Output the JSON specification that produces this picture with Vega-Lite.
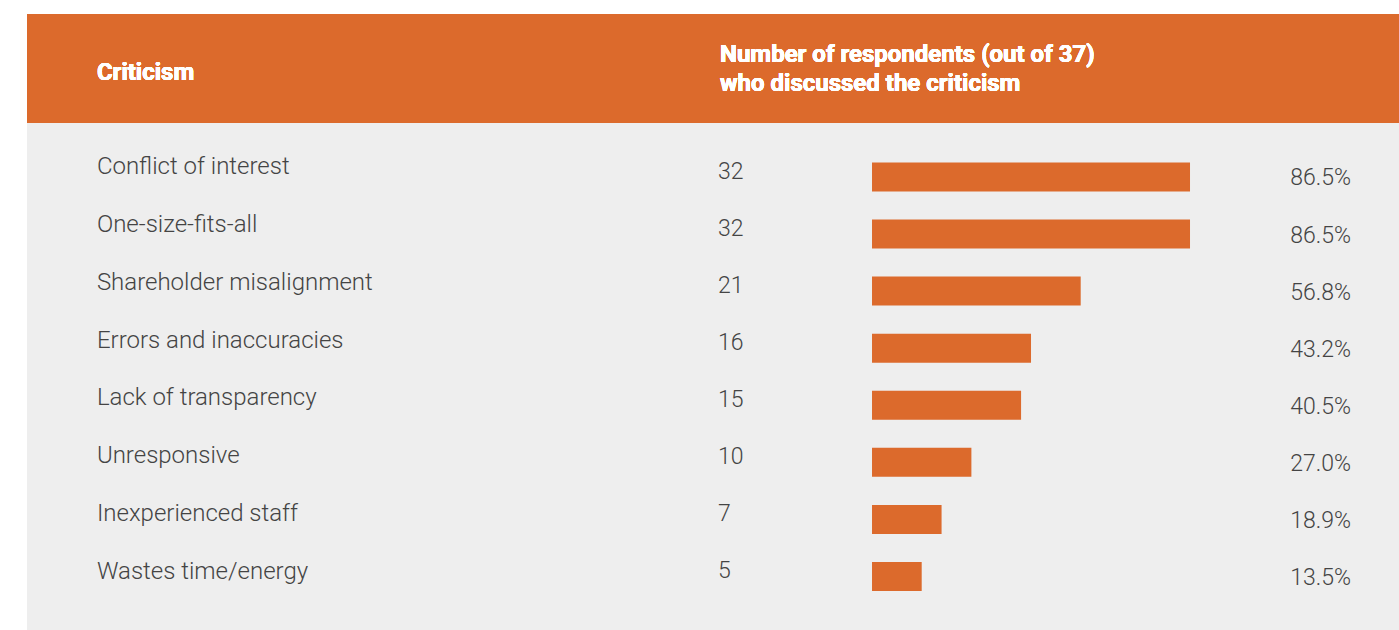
{
  "$schema": "https://vega.github.io/schema/vega-lite/v6.json",
  "width": 1399,
  "height": 630,
  "autosize": {"type": "none"},
  "padding": {"left": 0, "right": 0, "top": 0, "bottom": 0},
  "background": "white",
  "config": {"view": {"stroke": null}, "text": {"font": "Roboto"}},
  "datasets": {
    "rows": [
      {"criticism": "Conflict of interest", "rank": 1, "count": 32, "pct": "86.5%"},
      {"criticism": "One-size-fits-all", "rank": 2, "count": 32, "pct": "86.5%"},
      {"criticism": "Shareholder misalignment", "rank": 3, "count": 21, "pct": "56.8%"},
      {"criticism": "Errors and inaccuracies", "rank": 4, "count": 16, "pct": "43.2%"},
      {"criticism": "Lack of transparency", "rank": 5, "count": 15, "pct": "40.5%"},
      {"criticism": "Unresponsive", "rank": 6, "count": 10, "pct": "27.0%"},
      {"criticism": "Inexperienced staff", "rank": 7, "count": 7, "pct": "18.9%"},
      {"criticism": "Wastes time/energy", "rank": 8, "count": 5, "pct": "13.5%"}
    ]
  },
  "data": {"name": "rows"},
  "resolve": {"scale": {"y": "independent"}},
  "layer": [
    {
      "mark": {"type": "rect", "color": "#eeeeee"},
      "encoding": {
        "x": {"datum": -85.03, "type": "quantitative", "scale": {"domain": [-87.75, 53.03], "zero": false, "nice": false, "padding": 0}, "axis": null},
        "x2": {"datum": 53.03},
        "y": {"datum": 0.054, "type": "quantitative", "scale": {"domain": [-2.101, 8.938], "reverse": true, "zero": false, "nice": false, "padding": 0}, "axis": null},
        "y2": {"datum": 8.938}
      }
    },
    {
      "mark": {"type": "rect", "color": "#dc6a2c"},
      "encoding": {
        "x": {"datum": -85.03, "type": "quantitative", "scale": {"domain": [-87.75, 53.03], "zero": false, "nice": false, "padding": 0}, "axis": null},
        "x2": {"datum": 53.03},
        "y": {"datum": -1.856, "type": "quantitative", "scale": {"domain": [-2.101, 8.938], "reverse": true, "zero": false, "nice": false, "padding": 0}, "axis": null},
        "y2": {"datum": 0.054}
      }
    },
    {
      "mark": {"type": "text", "color": "white", "fontWeight": "bold", "fontSize": 24, "align": "left", "baseline": "middle", "dy": 2},
      "encoding": {
        "x": {"datum": -78.0, "type": "quantitative", "scale": {"domain": [-87.75, 53.03], "zero": false, "nice": false, "padding": 0}, "axis": null},
        "y": {"datum": -0.857, "type": "quantitative", "scale": {"domain": [-2.101, 8.938], "reverse": true, "zero": false, "nice": false, "padding": 0}, "axis": null},
        "text": {"value": "Criticism"}
      }
    },
    {
      "mark": {"type": "text", "color": "white", "fontWeight": "bold", "fontSize": 24, "align": "left", "baseline": "middle", "dy": 2},
      "encoding": {
        "x": {"datum": -15.3, "type": "quantitative", "scale": {"domain": [-87.75, 53.03], "zero": false, "nice": false, "padding": 0}, "axis": null},
        "y": {"datum": -1.173, "type": "quantitative", "scale": {"domain": [-2.101, 8.938], "reverse": true, "zero": false, "nice": false, "padding": 0}, "axis": null},
        "text": {"value": "Number of respondents (out of 37)"}
      }
    },
    {
      "mark": {"type": "text", "color": "white", "fontWeight": "bold", "fontSize": 24, "align": "left", "baseline": "middle", "dy": 2},
      "encoding": {
        "x": {"datum": -15.3, "type": "quantitative", "scale": {"domain": [-87.75, 53.03], "zero": false, "nice": false, "padding": 0}, "axis": null},
        "y": {"datum": -0.665, "type": "quantitative", "scale": {"domain": [-2.101, 8.938], "reverse": true, "zero": false, "nice": false, "padding": 0}, "axis": null},
        "text": {"value": "who discussed the criticism"}
      }
    },
    {
      "mark": {"type": "text", "color": "#444444", "fontSize": 24, "fontWeight": 300, "align": "left", "baseline": "middle"},
      "encoding": {
        "x": {"datum": -78.0, "type": "quantitative", "scale": {"domain": [-87.75, 53.03], "zero": false, "nice": false, "padding": 0}, "axis": null},
        "y": {"field": "rank", "type": "quantitative", "scale": {"domain": [-1.886, 9.0025], "reverse": true, "zero": false, "nice": false, "padding": 0}, "axis": null},
        "text": {"field": "criticism"}
      }
    },
    {
      "mark": {"type": "text", "color": "#444444", "fontSize": 23, "fontWeight": 300, "align": "left", "baseline": "middle", "dy": -5},
      "encoding": {
        "x": {"datum": -15.5, "type": "quantitative", "scale": {"domain": [-87.75, 53.03], "zero": false, "nice": false, "padding": 0}, "axis": null},
        "y": {"field": "rank", "type": "quantitative", "scale": {"domain": [-2.101, 8.938], "reverse": true, "zero": false, "nice": false, "padding": 0}, "axis": null},
        "text": {"field": "count", "type": "quantitative"}
      }
    },
    {
      "mark": {"type": "bar", "color": "#dc6a2c", "height": 29},
      "encoding": {
        "x": {"field": "count", "type": "quantitative", "scale": {"domain": [-87.75, 53.03], "zero": false, "nice": false, "padding": 0}, "axis": null},
        "x2": {"datum": 0},
        "y": {"field": "rank", "type": "quantitative", "scale": {"domain": [-2.101, 8.938], "reverse": true, "zero": false, "nice": false, "padding": 0}, "axis": null}
      }
    },
    {
      "mark": {"type": "text", "color": "#444444", "fontSize": 23, "fontWeight": 300, "align": "right", "baseline": "middle", "dy": 1.5},
      "encoding": {
        "x": {"datum": 48.2, "type": "quantitative", "scale": {"domain": [-87.75, 53.03], "zero": false, "nice": false, "padding": 0}, "axis": null},
        "y": {"field": "rank", "type": "quantitative", "scale": {"domain": [-2.101, 8.938], "reverse": true, "zero": false, "nice": false, "padding": 0}, "axis": null},
        "text": {"field": "pct"}
      }
    }
  ]
}
